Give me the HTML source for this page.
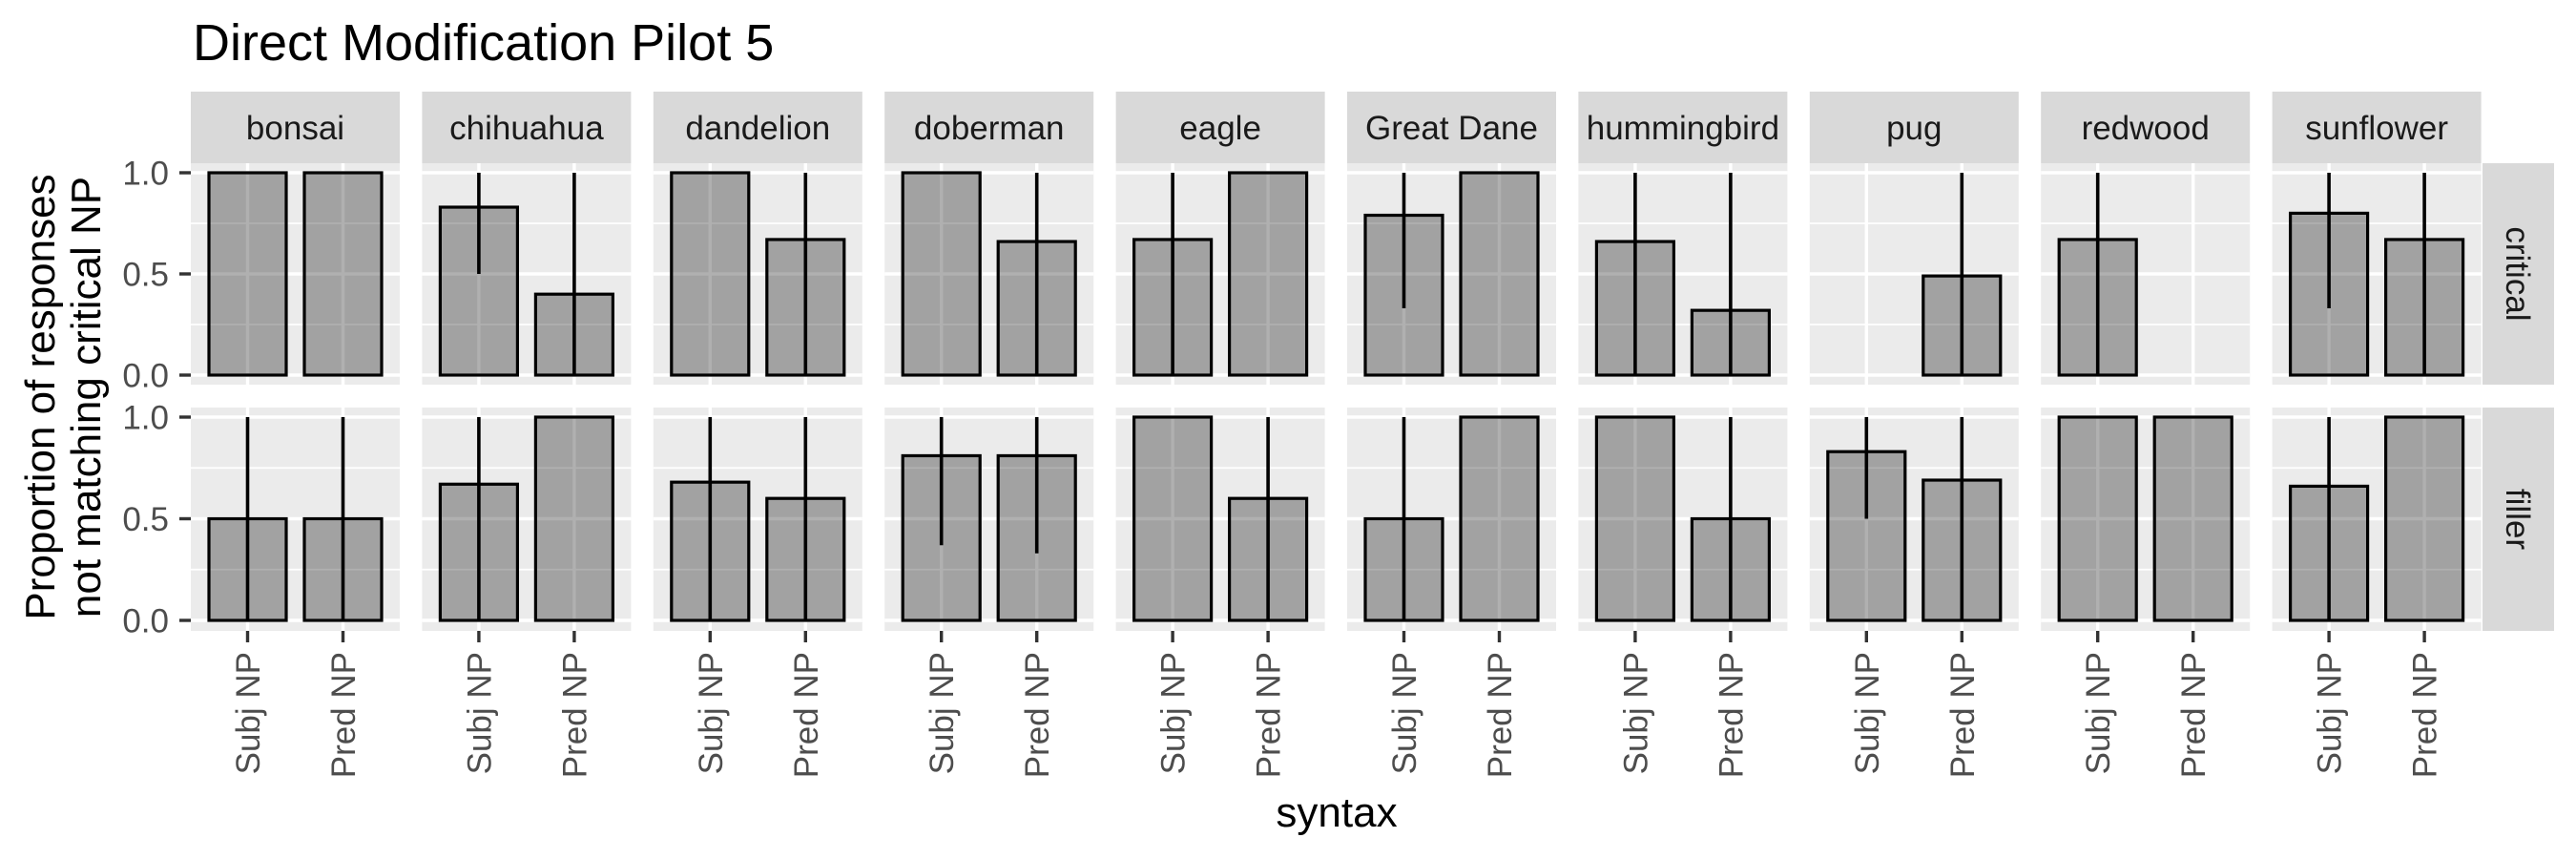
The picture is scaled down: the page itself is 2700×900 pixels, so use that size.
<!DOCTYPE html>
<html><head><meta charset="utf-8"><style>
html,body{margin:0;padding:0;background:#fff;}
svg{display:block;font-family:"Liberation Sans",Arial,sans-serif;}
</style></head><body>
<svg id="chart" width="2700" height="900" viewBox="0 0 2700 900" xmlns="http://www.w3.org/2000/svg">
<text x="202" y="63" font-size="54" fill="#000">Direct Modification Pilot 5</text>
<g transform="translate(57,416) rotate(-90)">
<text x="0" y="0" text-anchor="middle" font-size="44" fill="#000">Proportion of responses</text>
<text x="0" y="48" text-anchor="middle" font-size="44" fill="#000">not matching critical NP</text>
</g>
<text x="1401" y="866" text-anchor="middle" font-size="44" fill="#000">syntax</text>
<g id="panels"></g>
</svg>
<script>
const items = ["bonsai","chihuahua","dandelion","doberman","eagle","Great Dane","hummingbird","pug","redwood","sunflower"];
const categories = ["Subj NP","Pred NP"];
const rows = ["critical","filler"];
const yTicks = [0,0.5,1];
const yTickLabels = ["0.0","0.5","1.0"];
const criticalValues = [[1,1],[0.83,0.4],[1,0.67],[1,0.66],[0.67,1],[0.79,1],[0.66,0.32],[null,0.49],[0.67,null],[0.8,0.67]];
const criticalLow = [[1,1],[0.5,0],[1,0],[1,0],[0,1],[0.33,1],[0,0],[null,0],[0,null],[0.33,0]];
const criticalHigh = [[1,1],[1,1],[1,1],[1,1],[1,1],[1,1],[1,1],[null,1],[1,null],[1,1]];
const fillerValues = [[0.5,0.5],[0.67,1],[0.68,0.6],[0.81,0.81],[1,0.6],[0.5,1],[1,0.5],[0.83,0.69],[1,1],[0.66,1]];
const fillerLow = [[0,0],[0,1],[0,0],[0.37,0.33],[1,0],[0,1],[1,0],[0.5,0],[1,1],[0,1]];
const fillerHigh = [[1,1],[1,1],[1,1],[1,1],[1,1],[1,1],[1,1],[1,1],[1,1],[1,1]];

const NS="http://www.w3.org/2000/svg";
const root=document.getElementById('panels');
function mk(tag,attrs,parent){const e=document.createElementNS(NS,tag);for(const k in attrs)e.setAttribute(k,attrs[k]);(parent||root).appendChild(e);return e;}
const panelX0=200, pitch=242.4, panelW=219;
const rowGeom=[{top:171,bottom:403,y0:393,y1:181},{top:427,bottom:661,y0:650,y1:437}];
const valueSets=[[criticalValues,criticalLow,criticalHigh],[fillerValues,fillerLow,fillerHigh]];
function yScale(r,v){const g=rowGeom[r];return g.y0+(g.y1-g.y0)*v;}
function xScale(p,c){return panelX0+p*pitch+59.5+c*100;}

items.forEach((name,p)=>{
  const px=panelX0+p*pitch;
  const strip=mk('rect',{x:px,y:96,width:panelW,height:75,fill:'#d9d9d9'});
  
  
  const st=mk('text',{x:px+panelW/2,y:146,'text-anchor':'middle','font-size':35,fill:'#1a1a1a'});
  st.textContent=name;
  
  
  rows.forEach((row,r)=>{
    const g=rowGeom[r];
    const grp=mk('g',{});
    
    
    mk('rect',{x:px,y:g.top,width:panelW,height:g.bottom-g.top,fill:'#ebebeb'},grp);
    [0.25,0.75].forEach(v=>mk('line',{x1:px,x2:px+panelW,y1:yScale(r,v),y2:yScale(r,v),stroke:'#fff','stroke-width':1.7},grp));
    yTicks.forEach(v=>mk('line',{x1:px,x2:px+panelW,y1:yScale(r,v),y2:yScale(r,v),stroke:'#fff','stroke-width':3.4},grp));
    categories.forEach((c,ci)=>mk('line',{x1:xScale(p,ci),x2:xScale(p,ci),y1:g.top,y2:g.bottom,stroke:'#fff','stroke-width':3.4},grp));
    const [vals,lo,hi]=valueSets[r];
    categories.forEach((c,ci)=>{
      const v=vals[p][ci];
      if(v===null)return;
      const cx=xScale(p,ci);
      const bar=mk('rect',{x:cx-40.5,y:yScale(r,v),width:81,height:yScale(r,0)-yScale(r,v),fill:'rgba(0,0,0,0.31)',stroke:'#000','stroke-width':3.2},grp);
      
      
      if(hi[p][ci]!==lo[p][ci]){
        const eb=mk('line',{x1:cx,x2:cx,y1:yScale(r,lo[p][ci]),y2:yScale(r,hi[p][ci]),stroke:'#000','stroke-width':3.6},grp);
        
        
      }
    });
    if(p===0){
      yTicks.forEach((v,i)=>{
        mk('line',{x1:188,x2:200,y1:yScale(r,v),y2:yScale(r,v),stroke:'#333','stroke-width':3.4});
        const t=mk('text',{x:177,y:yScale(r,v)+12.5,'text-anchor':'end','font-size':35,fill:'#4d4d4d'});
        t.textContent=yTickLabels[i];
        
        
      });
    }
  });
  categories.forEach((c,ci)=>{
    const cx=xScale(p,ci);
    mk('line',{x1:cx,x2:cx,y1:661,y2:673,stroke:'#333','stroke-width':3.4});
    const t=mk('text',{x:0,y:0,'text-anchor':'end','font-size':35,fill:'#4d4d4d',transform:`translate(${cx+12.5},683) rotate(-90)`});
    t.textContent=c;
    
    
  });
});
rows.forEach((row,r)=>{
  const g=rowGeom[r];
  const s=mk('rect',{x:2602,y:g.top,width:75,height:g.bottom-g.top,fill:'#d9d9d9'});
  
  
  const t=mk('text',{x:0,y:0,'text-anchor':'middle','font-size':35,fill:'#1a1a1a',transform:`translate(2627,${(g.top+g.bottom)/2}) rotate(90)`});
  t.textContent=row;
  
  
});
</script>
</body></html>
